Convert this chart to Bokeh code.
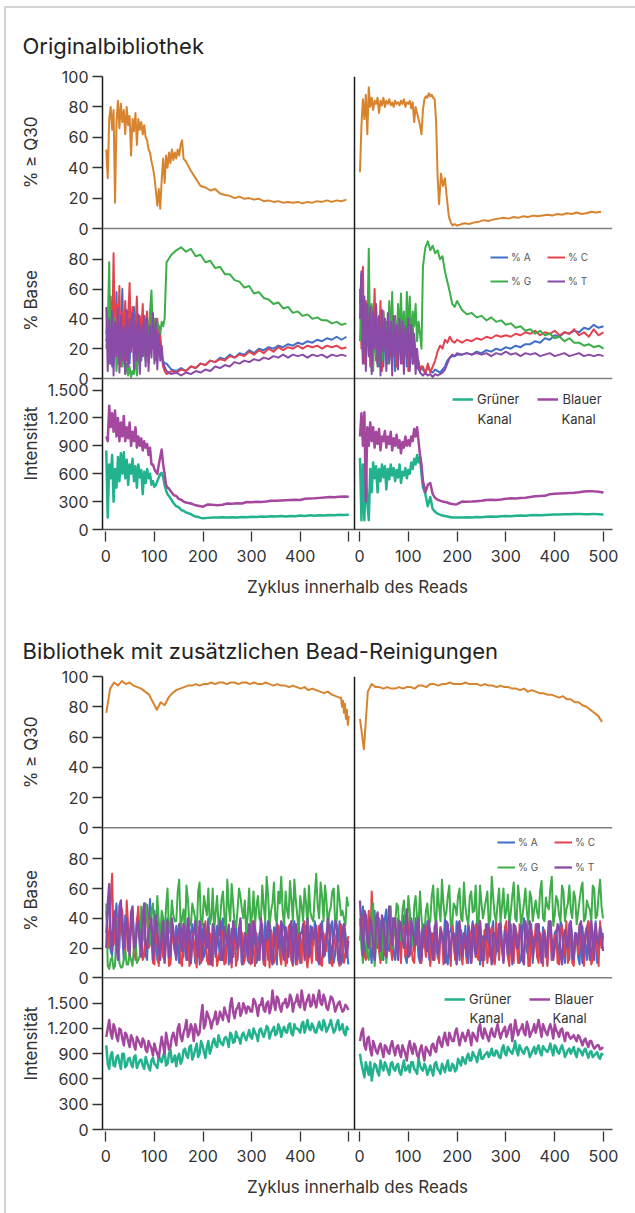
import math
from bokeh.plotting import figure
from bokeh.models import Range1d, LinearAxis, FixedTicker, Span, Label, Legend, LegendItem
from bokeh.layouts import column, row
from bokeh.embed import file_html
from bokeh.resources import INLINE

# ---------------- DATA ----------------
# Section 1 (Originalbibliothek) -- % >= Q30
q1L_a = [52, 33, 72, 80, 65, 78, 17, 70, 84, 66, 82, 70, 78, 62, 80, 68, 74, 48, 72, 64,
         76, 55, 72, 65, 70, 62, 68, 60, 58, 52, 50, 44, 40, 34, 25, 15, 26, 13, 32, 46,
         30, 48, 40, 50, 43, 52, 45, 50, 46, 52, 48, 55, 58, 46]            # cycles 1.. step 3
q1L_b = [44, 38, 33, 28, 27, 25, 26, 23, 22, 21.5, 20, 21, 19.5, 20, 19, 19.5, 18, 18.5, 17.5, 18,
         17, 17.5, 17, 17.5, 16.5, 17.5, 17, 18, 17.5, 18.5, 17.5, 18.5, 18, 19]  # cycles 165.. step 10
q1R_a = [37, 68, 85, 72, 88, 62, 93, 80, 86, 78, 84, 82, 86, 76, 84, 81, 86, 80, 84, 82,
         85, 81, 83, 80, 84, 82, 83, 81, 84, 82, 85, 80, 83, 82, 84, 79, 83, 70, 80, 76,
         72, 68, 62, 78, 85, 87, 86, 89, 87, 88, 86, 85, 70, 35]            # cycles 1.. step 3
q1R_b = [16, 36, 28, 33, 20, 8, 4, 2, 3, 2]                                  # cycles 163.. step 4
q1R_c = [2.5, 3.5, 3, 4, 4.5, 5.5, 5, 6, 6.5, 7, 6.5, 7.5, 7, 8, 7.5, 8.5, 8, 8.5, 9, 8.5,
         9.5, 9, 10, 9.5, 10.5, 9.5, 10, 11, 10.5, 11]                       # cycles 205.. step 10

# Section 1 -- % Base, read 1 (cycles 1.. step 3, then 125.. step 10)
b1L_A_a = [25, 40, 15, 50, 8, 45, 20, 58, 10, 42, 30, 60, 15, 40, 25, 45, 10, 38, 30, 48,
           15, 40, 25, 35, 12, 45, 20, 38, 30, 15, 42, 20, 35, 25, 40, 30, 35, 25, 15, 12, 10]
b1L_C_a = [30, 45, 10, 55, 20, 84, 15, 50, 25, 62, 8, 45, 30, 52, 12, 40, 64, 20, 48, 10,
           35, 55, 18, 42, 28, 50, 15, 38, 45, 10, 30, 48, 20, 35, 12, 40, 25, 30, 15, 8, 5]
b1L_G_a = [20, 35, 78, 10, 30, 15, 40, 5, 25, 12, 35, 8, 20, 3, 10, 2, 8, 1, 5, 3,
           15, 2, 20, 10, 30, 18, 35, 12, 40, 20, 45, 59, 25, 40, 30, 38, 35, 30, 38, 35, 40]
b1L_T_a = [48, 5, 40, 10, 45, 2, 38, 15, 47, 4, 42, 12, 35, 3, 46, 8, 40, 18, 44, 6,
           38, 12, 43, 3, 36, 15, 42, 8, 40, 5, 35, 14, 44, 10, 38, 6, 30, 12, 22, 10, 8]
b1L_A_b = [10, 6, 5, 7, 5, 8, 7, 10, 9, 12, 11, 14, 13, 16, 14, 17, 16, 19, 17, 20,
           19, 21, 20, 22, 21, 23, 22, 24, 23, 25, 24, 26, 25, 27, 26, 28, 26, 28]
b1L_C_b = [3, 5, 4, 6, 5, 8, 7, 10, 9, 12, 11, 13, 12, 15, 14, 16, 15, 18, 16, 19,
           17, 20, 18, 21, 19, 21, 20, 22, 20, 22, 21, 22, 20, 22, 21, 22, 20, 21]
b1L_G_b = [78, 83, 86, 88, 85, 87, 82, 83, 78, 79, 74, 75, 70, 70, 66, 65, 61, 62, 57, 58,
           54, 53, 50, 51, 47, 48, 44, 45, 42, 43, 40, 41, 39, 39, 37, 38, 36, 37]
b1L_T_b = [5, 3, 4, 2, 4, 3, 5, 4, 6, 5, 8, 7, 9, 8, 11, 10, 12, 11, 13, 12,
           14, 13, 15, 14, 16, 14, 16, 15, 16, 14, 16, 15, 16, 14, 16, 15, 16, 15]

# Section 1 -- % Base, read 2 (cycles 1.. step 3, 130.. step 5, 210.. step 10)
b1R_A_a = [50, 70, 20, 45, 10, 50, 25, 40, 5, 42, 18, 48, 10, 38, 25, 45, 8, 40, 20, 35,
           10, 42, 25, 38, 5, 35, 20, 40, 12, 36, 22, 38, 8, 32, 18, 38, 10, 28, 15, 8, 6, 5, 8]
b1R_C_a = [60, 20, 75, 10, 52, 25, 45, 8, 48, 30, 60, 12, 40, 25, 52, 5, 45, 20, 38, 10,
           48, 15, 35, 25, 42, 8, 38, 20, 45, 10, 35, 18, 40, 5, 30, 15, 38, 10, 20, 8, 12, 5, 8]
b1R_G_a = [25, 60, 10, 45, 20, 30, 87, 20, 50, 5, 35, 15, 40, 8, 30, 12, 45, 20, 38, 10,
           52, 25, 58, 15, 40, 20, 50, 30, 57, 25, 45, 18, 58, 30, 55, 20, 45, 35, 50, 25, 38, 30, 20]
b1R_T_a = [40, 72, 10, 55, 5, 50, 15, 48, 3, 45, 20, 50, 8, 42, 2, 46, 18, 40, 5, 44,
           12, 38, 2, 42, 15, 36, 6, 40, 10, 38, 3, 35, 14, 40, 5, 36, 10, 30, 3, 20, 8, 4, 3]
b1R_A_b = [6, 4, 8, 5, 4, 6, 5, 4, 6, 8, 12, 14, 15, 15, 16]
b1R_C_b = [8, 3, 10, 4, 8, 12, 18, 22, 20, 26, 24, 28, 25, 24, 26]
b1R_G_b = [75, 88, 92, 86, 89, 84, 86, 80, 82, 72, 65, 58, 50, 48, 52]
b1R_T_b = [2, 4, 2, 3, 1, 3, 2, 3, 4, 6, 10, 14, 16, 15, 17]
b1R_A_c = [16, 17, 16, 18, 17, 19, 18, 20, 19, 21, 20, 22, 21, 23, 23, 25, 24, 27, 26, 29,
           28, 31, 30, 32, 31, 34, 33, 36, 34, 35]
b1R_C_c = [24, 26, 25, 27, 26, 28, 27, 29, 28, 29, 28, 30, 29, 31, 30, 32, 29, 31, 30, 32,
           29, 31, 30, 33, 29, 31, 28, 33, 29, 31]
b1R_G_c = [46, 43, 44, 41, 42, 39, 41, 38, 39, 36, 37, 34, 35, 32, 33, 30, 32, 29, 30, 27,
           28, 25, 27, 24, 24, 22, 23, 21, 22, 20]
b1R_T_c = [16, 17, 16, 17, 16, 17, 15, 17, 16, 18, 16, 17, 15, 17, 16, 17, 15, 16, 17, 15,
           16, 17, 15, 16, 17, 15, 16, 15, 16, 15]

# Section 1 -- Intensitaet (cycles 1.. step 3, 130.. step 5, 210.. step 10)
i1L_G_a = [850, 130, 700, 550, 800, 300, 650, 450, 780, 520, 820, 600, 830, 550, 750, 480, 700, 600, 760, 520,
           680, 450, 700, 560, 640, 380, 620, 500, 650, 550, 600, 480, 520, 460, 480, 520, 560, 600, 610, 560,
           480, 420, 380]
i1L_B_a = [1000, 950, 1330, 1100, 1250, 1050, 1280, 1000, 1200, 950, 1150, 1000, 1220, 950, 1100, 980, 1150, 900, 1050, 950,
           1100, 880, 1000, 900, 980, 850, 950, 880, 920, 800, 880, 700, 700, 650, 620, 600, 700, 780, 860, 700,
           600, 480, 450]
i1L_G_b = [360, 320, 280, 250, 240, 210, 200, 185, 175, 165, 150, 140, 135, 125, 120]
i1L_B_b = [440, 400, 370, 360, 330, 320, 300, 290, 285, 280, 270, 260, 255, 250, 245]
i1L_G_c = [125, 130, 128, 132, 129, 133, 130, 135, 132, 138, 134, 140, 137, 142, 139, 144, 141, 146, 143, 150,
           146, 152, 149, 154, 151, 156, 153, 158, 155, 158]
i1L_B_c = [270, 265, 262, 266, 280, 276, 282, 279, 295, 292, 298, 295, 300, 310, 308, 312, 315, 318, 320, 317,
           330, 333, 335, 340, 345, 350, 348, 352, 355, 353]
i1R_G_a = [770, 100, 700, 100, 680, 290, 100, 650, 400, 720, 550, 680, 400, 650, 520, 700, 560, 680, 430, 650,
           540, 700, 580, 660, 520, 640, 560, 700, 500, 620, 580, 660, 550, 640, 600, 720, 650, 760, 700, 800,
           720, 780, 600]
i1R_B_a = [1000, 1250, 900, 1260, 300, 1100, 900, 1150, 950, 1100, 880, 1050, 920, 1080, 850, 1000, 950, 1060, 880, 1000,
           920, 1050, 850, 980, 900, 1020, 880, 960, 820, 940, 880, 1000, 900, 960, 900, 1000, 950, 1080, 1000, 1100,
           950, 800, 700]
i1R_G_b = [450, 380, 250, 350, 220, 190, 170, 160, 150, 145, 140, 135, 130, 128, 130]
i1R_B_b = [520, 400, 480, 500, 380, 340, 320, 310, 300, 295, 290, 280, 275, 270, 272]
i1R_G_c = [128, 132, 130, 135, 133, 138, 140, 138, 142, 145, 143, 148, 150, 148, 152, 155, 153, 156, 158, 160,
           162, 165, 163, 166, 168, 165, 165, 168, 165, 162]
i1R_B_c = [300, 298, 300, 305, 310, 318, 320, 318, 322, 330, 335, 333, 338, 342, 350, 358, 360, 362, 380, 385,
           388, 390, 392, 395, 400, 408, 410, 410, 405, 398]

# Section 2 (Bibliothek mit zusaetzlichen Bead-Reinigungen) -- % >= Q30
q2L_a = [76, 92, 96, 94, 97, 95, 96, 94, 93, 92, 90, 88, 83, 78, 83, 81, 86, 89, 91, 92,
         93, 94, 94, 95, 94, 95, 95, 96, 95, 96, 96, 95, 96, 96, 95, 96, 96, 95, 96, 95,
         95, 96, 95, 94, 95, 94, 94, 93, 94, 93, 92, 93, 91, 92, 91, 90, 89, 90, 88, 87, 86]  # 1.. step 8
q2L_b = [86, 80, 84, 76, 82, 72, 78, 68, 74]                                                 # 484.. step 2
q2R = [72, 52, 90, 95, 93, 93, 92, 93, 92, 92, 93, 92, 93, 93, 92, 94, 94, 93, 95, 95,
       94, 95, 95, 96, 95, 95, 95, 96, 95, 95, 95, 94, 95, 94, 94, 93, 94, 93, 93, 92,
       92, 91, 92, 90, 91, 90, 89, 89, 88, 88, 87, 86, 87, 85, 85, 83, 83, 81, 80, 78,
       76, 74, 70]                                                                           # 1.. step 8

# Section 2 -- % Base (first list: cycles 1.. step 6, second list: cycles 4.. step 6)
b2L_G = [50, 6, 14, 8, 40, 7, 12, 9, 16, 8, 30, 12, 48, 25, 40, 22, 50, 30, 38, 45, 28, 60, 35, 42,
         38, 66, 40, 30, 52, 35, 45, 28, 64, 38, 48, 60, 40, 32, 55, 38, 58, 30, 48, 63, 36, 45, 55, 40,
         30, 60, 42, 35, 55, 38, 48, 68, 34, 50, 40, 58, 68, 36, 45, 65, 38, 52, 30, 48, 60, 35, 44, 38,
         70, 40, 55, 62, 35, 48, 60, 38, 52, 45, 35, 48]
b2L_G2 = [8, 12, 6, 35, 10, 7, 18, 9, 12, 22, 10, 15, 35, 50, 28, 45, 32, 55, 25, 40, 48, 30, 52, 38,
          58, 34, 46, 62, 36, 50, 40, 58, 32, 55, 42, 36, 60, 44, 35, 52, 42, 66, 38, 50, 34, 60, 46, 52,
          42, 36, 58, 48, 40, 62, 38, 55, 45, 64, 36, 50, 44, 58, 40, 52, 66, 42, 55, 38, 50, 62, 40, 56,
          48, 64, 38, 52, 44, 58, 36, 62, 42, 40, 54]
b2L_C = [45, 20, 70, 30, 15, 48, 25, 52, 18, 40, 12, 48, 30, 15, 49, 22, 10, 35, 8, 28, 12, 38, 9, 25,
         15, 32, 8, 20, 35, 10, 25, 7, 30, 14, 38, 9, 22, 35, 8, 18, 30, 10, 36, 7, 25, 15, 33, 9,
         28, 12, 38, 8, 22, 35, 10, 30, 7, 26, 14, 35, 9, 28, 15, 36, 8, 24, 32, 10, 38, 7, 20, 30,
         12, 35, 8, 25, 38, 10, 22, 30, 8, 32, 15, 28]
b2L_C2 = [30, 52, 22, 40, 28, 45, 15, 35, 42, 20, 38, 25, 12, 40, 20, 30, 9, 25, 36, 14, 30, 8, 32, 18,
          28, 10, 36, 22, 8, 30, 16, 34, 10, 24, 12, 30, 8, 26, 14, 32, 9, 28, 18, 34, 8, 22, 30, 12,
          34, 9, 20, 30, 12, 36, 8, 24, 32, 10, 28, 16, 22, 8, 34, 12, 30, 9, 26, 36, 14, 22, 10, 32,
          24, 9, 30, 18, 34, 8, 26, 12, 36, 10, 22]
b2L_A = [30, 55, 15, 40, 22, 48, 12, 38, 25, 45, 15, 35, 20, 42, 12, 53, 18, 35, 10, 30, 25, 40, 12, 28,
         35, 10, 28, 40, 12, 30, 22, 38, 9, 32, 18, 40, 10, 28, 35, 12, 40, 20, 9, 33, 25, 12, 38, 18,
         30, 10, 25, 38, 14, 32, 9, 28, 40, 12, 22, 35, 15, 38, 10, 26, 33, 9, 40, 18, 28, 10, 35, 22,
         30, 9, 38, 15, 25, 35, 10, 28, 38, 12, 30, 9]
b2L_A2 = [45, 18, 35, 50, 20, 30, 42, 18, 32, 24, 40, 20, 32, 15, 38, 25, 45, 12, 32, 20, 36, 10, 35, 18,
          22, 38, 14, 30, 24, 36, 10, 28, 34, 14, 30, 9, 30, 14, 25, 36, 10, 32, 22, 14, 38, 28, 9, 30,
          12, 36, 20, 10, 30, 22, 38, 12, 26, 34, 9, 28, 36, 20, 30, 12, 38, 22, 10, 30, 35, 14, 24, 38,
          12, 34, 20, 30, 10, 38, 16, 24, 9, 36, 20]
b2L_T = [20, 63, 18, 45, 12, 52, 20, 40, 15, 48, 22, 38, 14, 50, 20, 35, 12, 42, 18, 30, 10, 38, 15, 32,
         12, 36, 18, 28, 40, 10, 30, 22, 38, 12, 26, 35, 9, 32, 24, 38, 12, 28, 35, 10, 30, 20, 40, 14,
         26, 36, 10, 32, 18, 40, 12, 25, 35, 9, 30, 20, 38, 12, 28, 34, 10, 36, 20, 30, 12, 40, 18, 26,
         35, 10, 30, 22, 40, 12, 28, 36, 10, 32, 20, 25]
b2L_T2 = [50, 30, 40, 22, 48, 30, 35, 25, 44, 20, 36, 28, 42, 22, 30, 40, 24, 34, 12, 38, 26, 14, 40, 20,
          30, 22, 36, 12, 30, 24, 38, 14, 28, 36, 20, 12, 36, 16, 30, 12, 34, 22, 14, 38, 24, 32, 10, 30,
          14, 28, 38, 20, 12, 32, 26, 38, 14, 22, 36, 28, 20, 34, 14, 38, 24, 12, 30, 36, 22, 14, 34, 28,
          18, 36, 14, 26, 32, 20, 38, 14, 24, 36, 14]
b2R_G = [40, 10, 35, 12, 45, 8, 30, 15, 38, 10, 42, 20, 35, 48, 25, 52, 30, 45, 22, 55, 35, 40, 28, 50,
         38, 62, 35, 48, 66, 40, 55, 35, 50, 42, 60, 38, 48, 36, 58, 45, 38, 62, 40, 52, 35, 68, 42, 50,
         38, 60, 45, 35, 55, 40, 62, 36, 50, 44, 58, 38, 52, 40, 65, 38, 48, 60, 35, 55, 42, 62, 38, 50,
         45, 58, 36, 52, 64, 40, 48, 38, 60, 42, 66, 40]
b2R_G2 = [20, 45, 15, 30, 50, 22, 40, 12, 35, 28, 48, 30, 50, 30, 45, 38, 55, 28, 48, 40, 58, 30, 45, 36,
          55, 42, 60, 38, 50, 44, 62, 36, 48, 55, 40, 64, 40, 55, 44, 62, 36, 50, 46, 58, 40, 54, 38, 60,
          48, 40, 56, 44, 64, 38, 52, 42, 60, 36, 54, 46, 44, 58, 40, 54, 46, 68, 42, 52, 38, 58, 46, 62,
          40, 54, 44, 60, 38, 52, 46, 62, 40, 56, 48]
b2R_C = [35, 20, 12, 45, 58, 15, 40, 10, 38, 22, 45, 12, 30, 40, 10, 35, 20, 42, 12, 28, 38, 10, 25, 35,
         8, 22, 38, 10, 30, 15, 35, 8, 26, 20, 32, 9, 24, 36, 10, 30, 14, 38, 8, 28, 20, 34, 9, 25,
         32, 12, 38, 8, 26, 34, 10, 30, 18, 36, 8, 28, 36, 10, 24, 32, 8, 38, 15, 30, 9, 35, 22, 10,
         32, 8, 28, 36, 12, 25, 38, 9, 30, 20, 38, 28]
b2R_C2 = [42, 15, 30, 22, 40, 25, 18, 35, 15, 30, 20, 38, 18, 26, 35, 14, 30, 22, 10, 34, 18, 30, 14, 28,
          30, 12, 26, 34, 9, 28, 20, 36, 12, 30, 16, 24, 10, 30, 20, 36, 12, 26, 32, 10, 30, 14, 38, 12,
          20, 34, 14, 30, 10, 24, 36, 12, 28, 8, 32, 20, 14, 30, 8, 26, 36, 12, 28, 10, 32, 14, 38, 24,
          10, 30, 16, 24, 8, 34, 20, 12, 26, 8, 20]
b2R_A = [25, 48, 15, 40, 10, 45, 20, 38, 12, 46, 18, 40, 12, 35, 22, 42, 10, 32, 25, 40, 14, 30, 20, 38,
         10, 30, 36, 12, 28, 40, 9, 32, 22, 38, 12, 26, 35, 10, 30, 22, 40, 9, 28, 36, 14, 32, 10, 25,
         38, 12, 30, 22, 9, 35, 26, 12, 40, 18, 30, 10, 28, 36, 12, 30, 9, 38, 20, 32, 12, 35, 10, 28,
         36, 14, 30, 9, 34, 22, 38, 12, 28, 10, 35, 30]
b2R_A2 = [40, 20, 32, 18, 36, 24, 30, 14, 40, 22, 30, 16, 30, 20, 38, 14, 28, 40, 18, 30, 10, 36, 24, 14,
          28, 20, 14, 34, 20, 12, 30, 38, 14, 26, 32, 20, 12, 28, 38, 14, 30, 22, 12, 34, 24, 38, 18, 30,
          22, 30, 14, 36, 20, 30, 10, 32, 24, 14, 36, 22, 14, 24, 34, 20, 28, 12, 30, 22, 38, 18, 26, 12,
          28, 22, 14, 36, 20, 12, 32, 20, 38, 16, 22]
b2R_T = [52, 15, 42, 20, 35, 12, 44, 18, 38, 14, 48, 22, 40, 12, 36, 20, 46, 15, 32, 22, 40, 12, 35, 18,
         30, 12, 38, 20, 28, 10, 36, 22, 30, 9, 38, 15, 28, 35, 10, 32, 20, 38, 12, 26, 34, 9, 30, 18,
         36, 10, 28, 38, 12, 30, 20, 35, 9, 28, 38, 14, 25, 36, 10, 30, 22, 38, 12, 28, 34, 9, 32, 20,
         38, 12, 28, 35, 10, 30, 22, 38, 12, 26, 34, 18]
b2R_T2 = [30, 45, 25, 40, 20, 38, 28, 42, 22, 36, 30, 40, 22, 38, 26, 30, 14, 38, 26, 36, 18, 30, 22, 38,
          20, 34, 16, 32, 22, 38, 14, 30, 20, 36, 24, 30, 14, 22, 36, 16, 30, 12, 28, 36, 20, 30, 24, 36,
          20, 32, 16, 24, 36, 20, 30, 12, 38, 22, 30, 26, 36, 18, 30, 14, 38, 26, 20, 36, 16, 28, 22, 36,
          14, 30, 22, 38, 18, 34, 12, 28, 36, 22, 30]

# Section 2 -- Intensitaet (first list: cycles 1.. step 6, second list: cycles 4.. step 6)
i2L_G = [1000, 720, 920, 750, 880, 720, 900, 760, 850, 740, 880, 780, 830, 720, 800, 700, 850, 760, 880, 800, 920, 780, 950, 820,
         750, 900, 820, 960, 850, 1000, 880, 1020, 900, 1000, 850, 1050, 960, 1080, 980, 1050, 1000, 1100, 980, 1120, 1040, 1100, 1020, 1150,
         1060, 1180, 1080, 1150, 1050, 1200, 1100, 1230, 1080, 1180, 1120, 1250, 1100, 1220, 1150, 1260, 1120, 1200, 1180, 1250, 1150, 1300, 1180, 1220,
         1150, 1280, 1180, 1250, 1200, 1300, 1150, 1260, 1180, 1250, 1120, 1180]
i2L_G2 = [780, 880, 760, 860, 800, 900, 740, 840, 780, 860, 730, 820, 760, 860, 740, 820, 780, 730, 820, 880, 760, 900, 800, 880,
          860, 780, 940, 880, 980, 830, 950, 860, 1050, 920, 980, 900, 1040, 1000, 1120, 1020, 1080, 1060, 1150, 1030, 1160, 1080, 1120, 1100,
          1120, 1100, 1200, 1120, 1180, 1140, 1160, 1200, 1150, 1220, 1140, 1200, 1180, 1160, 1240, 1140, 1250, 1200, 1150, 1280, 1220, 1200, 1260, 1160,
          1220, 1200, 1300, 1160, 1240, 1220, 1180, 1300, 1200, 1150, 1220]
i2L_B = [1100, 1300, 1080, 1200, 1050, 1180, 1000, 1120, 980, 1080, 950, 1060, 980, 1050, 920, 1000, 880, 950, 850, 1100, 900, 1050, 980, 1150,
         1000, 1250, 1050, 1200, 1100, 1250, 1050, 1180, 1150, 1480, 1250, 1350, 1200, 1320, 1250, 1400, 1300, 1380, 1280, 1560, 1320, 1450, 1350, 1500,
         1380, 1450, 1400, 1520, 1350, 1480, 1420, 1500, 1380, 1650, 1420, 1550, 1400, 1500, 1450, 1600, 1400, 1520, 1480, 1650, 1420, 1550, 1460, 1600,
         1450, 1650, 1480, 1550, 1420, 1580, 1500, 1450, 1520, 1400, 1480, 1420]
i2L_B2 = [1200, 1150, 1250, 1100, 1200, 1080, 1150, 1050, 1120, 1000, 1100, 1020, 1080, 950, 1050, 960, 1020, 900, 980, 1000, 1150, 950, 1100, 1080,
          1200, 1100, 1150, 1300, 1150, 1200, 1250, 1120, 1350, 1200, 1400, 1300, 1280, 1400, 1300, 1350, 1450, 1340, 1480, 1400, 1420, 1500, 1400, 1450,
          1460, 1400, 1550, 1450, 1480, 1560, 1400, 1520, 1450, 1500, 1580, 1450, 1500, 1550, 1480, 1560, 1500, 1600, 1450, 1540, 1500, 1600, 1480, 1520,
          1560, 1500, 1600, 1450, 1500, 1560, 1400, 1500, 1450, 1420, 1460]
i2R_G = [900, 700, 800, 650, 580, 780, 680, 820, 700, 760, 650, 800, 700, 780, 650, 820, 720, 680, 800, 700, 850, 720, 780, 650,
         760, 640, 800, 700, 780, 680, 820, 700, 760, 720, 800, 860, 780, 900, 820, 880, 800, 950, 840, 900, 860, 960, 880, 920,
         850, 1000, 880, 950, 900, 1050, 880, 960, 900, 980, 860, 940, 900, 1000, 880, 960, 920, 1020, 880, 980, 900, 1000, 860, 940,
         900, 980, 860, 950, 880, 960, 850, 930, 880, 920, 840, 880]
i2R_G2 = [780, 620, 720, 800, 700, 760, 640, 740, 800, 700, 780, 720, 760, 680, 740, 700, 760, 800, 720, 660, 760, 700, 740, 700,
          700, 780, 720, 660, 740, 760, 700, 780, 690, 840, 760, 820, 860, 820, 920, 860, 900, 840, 880, 920, 900, 880, 940, 860,
          960, 900, 980, 920, 960, 940, 1000, 920, 960, 940, 900, 980, 960, 920, 990, 940, 960, 940, 1000, 920, 960, 940, 900, 960,
          940, 900, 960, 920, 940, 900, 920, 860, 900, 860, 900]
i2R_B = [1050, 1200, 950, 1100, 880, 1000, 900, 1020, 860, 980, 900, 1050, 880, 1000, 860, 950, 820, 1050, 900, 980, 860, 1000, 820, 950,
         880, 1020, 920, 1100, 980, 1150, 1000, 1100, 1050, 1200, 1000, 1150, 1050, 1180, 1000, 1120, 1050, 1250, 1080, 1150, 1050, 1200, 1100, 1250,
         1080, 1180, 1100, 1220, 1050, 1300, 1120, 1200, 1150, 1280, 1100, 1180, 1150, 1300, 1100, 1200, 1120, 1250, 1080, 1180, 1100, 1200, 1050, 1150,
         1080, 1120, 1050, 1100, 1000, 1080, 980, 1050, 960, 1000, 950, 980]
i2R_B2 = [1150, 1000, 1080, 950, 1050, 930, 980, 940, 1000, 920, 1000, 950, 980, 920, 1000, 900, 980, 950, 1020, 880, 950, 900, 980, 920,
          1000, 950, 1050, 1020, 1080, 1050, 1150, 1050, 1150, 1100, 1080, 1100, 1120, 1100, 1150, 1080, 1200, 1120, 1200, 1100, 1150, 1120, 1180, 1150,
          1150, 1220, 1150, 1250, 1150, 1200, 1180, 1250, 1120, 1220, 1150, 1250, 1220, 1200, 1250, 1150, 1200, 1180, 1250, 1150, 1180, 1120, 1150, 1100,
          1100, 1080, 1120, 1050, 1060, 1020, 1050, 1000, 980, 1000, 960]

# tick values
q30_ticks = [0, 20, 40, 60, 80, 100]
base_ticks = [0, 20, 40, 60, 80]
int_ticks = [0, 300, 600, 900, 1200, 1500]
int_labels = ["0", "300", "600", "900", "1.200", "1.500"]
cycle_ticks = [0, 100, 200, 300, 400, 500]

# ---------------- STYLE / GEOMETRY ----------------
FONT = "Inter"
C_Q30 = "#D8842F"
C_A, C_C, C_G, C_T = "#3F6FC6", "#E2434F", "#3DAE49", "#8A4BA8"
C_GREEN, C_BLUE = "#22B38E", "#A4489F"
FRAME_W, FRAME_H = 510, 453
X_L0, XS_L = 3.3, 0.486
X_R0, XS_R = 257.0, 0.488
DIVIDER = 252
MAIN_W, YSTRIP_W, FULL_W = 593, 36, 629


def cyc(start, step, vals):
    return [start + step * i for i in range(len(vals))]


def merged(a, b):
    pts = sorted(zip(cyc(1, 6, a) + cyc(4, 6, b), a + b))
    return [p[0] for p in pts], [p[1] for p in pts]


def norm(v):
    v = round(v, 2)
    return int(v) if float(v).is_integer() else v


def strip(w, h, yspan):
    s = figure(width=w, height=h, x_range=Range1d(0, w), y_range=Range1d(0, yspan), title=None,
               min_border=0, min_border_left=0, min_border_right=0, min_border_top=0, min_border_bottom=0,
               toolbar_location=None, output_backend="svg", x_axis_type=None, y_axis_type=None)
    s.outline_line_color = None
    s.background_fill_color = "white"
    s.border_fill_color = "white"
    return s


def build(geo, height, series, leg_base, leg_int, kanal):
    top = 12
    bottom = height - top - FRAME_H
    p = figure(width=MAIN_W, height=height, x_range=Range1d(0, FRAME_W), y_range=Range1d(0, FRAME_H),
               min_border_left=60, min_border_right=23, min_border_top=top, min_border_bottom=bottom,
               toolbar_location=None, output_backend="svg", x_axis_type=None, y_axis_type=None)
    p.outline_line_color = None
    p.background_fill_color = "white"
    p.border_fill_color = "white"
    p.extra_x_ranges = {"L": Range1d(-X_L0 / XS_L, (FRAME_W - X_L0) / XS_L),
                        "R": Range1d(-X_R0 / XS_R, (FRAME_W - X_R0) / XS_R)}
    yr = {}
    for key in ("q", "b", "i"):
        z, s = geo[key]
        yr[key] = Range1d(-z / s, (FRAME_H - z) / s)
    p.extra_y_ranges = yr

    for key in ("q", "b"):
        p.add_layout(Span(location=0, dimension="width", y_range_name=key, line_color="#808080", line_width=1.5))
    p.add_layout(Span(location=DIVIDER, dimension="height", line_color="#1a1a1a", line_width=1.5))

    rend = {}
    for name, side, key, color, lw, xs, ys in series:
        r = p.line(xs, ys, x_range_name=side, y_range_name=key, line_color=color, line_width=lw,
                   line_join="round")
        rend[(name, side)] = r

    ticks, over = [], {}
    for key, vals, labs in (("q", q30_ticks, [str(v) for v in q30_ticks]),
                            ("b", base_ticks, [str(v) for v in base_ticks]),
                            ("i", int_ticks, int_labels)):
        z, s = geo[key]
        for v, lab in zip(vals, labs):
            t = norm(z + s * v)
            ticks.append(t)
            over[t] = lab
    ya = LinearAxis(ticker=FixedTicker(ticks=ticks), major_label_overrides=over)
    ya.major_tick_out = 10
    ya.major_tick_in = 0
    ya.minor_tick_out = 0
    ya.minor_tick_in = 0
    ya.major_label_standoff = 4
    ya.axis_line_color = "#1a1a1a"
    ya.axis_line_width = 1.5
    ya.major_tick_line_color = "#333333"
    ya.major_tick_line_width = 1.3
    ya.major_label_text_font = FONT
    ya.major_label_text_font_size = "16px"
    ya.major_label_text_color = "#333333"
    p.add_layout(ya, "left")

    xt, xo = [], {}
    for v in cycle_ticks:
        t = norm(X_L0 + XS_L * v)
        xt.append(t)
        xo[t] = "" if v == 500 else str(v)
    for v in cycle_ticks:
        t = norm(X_R0 + XS_R * v)
        xt.append(t)
        xo[t] = str(v)
    xa = LinearAxis(ticker=FixedTicker(ticks=xt), major_label_overrides=xo,
                    axis_label="Zyklus innerhalb des Reads")
    xa.major_tick_out = 12
    xa.major_tick_in = -2
    xa.minor_tick_out = 0
    xa.minor_tick_in = 0
    xa.major_label_standoff = 8
    xa.axis_line_color = "#555555"
    xa.axis_line_width = 1.5
    xa.major_tick_line_color = "#333333"
    xa.major_tick_line_width = 1.3
    xa.major_label_text_font = FONT
    xa.major_label_text_font_size = "16px"
    xa.major_label_text_color = "#333333"
    xa.axis_label_text_font = FONT
    xa.axis_label_text_font_size = "17px"
    xa.axis_label_text_font_style = "normal"
    xa.axis_label_text_color = "#333333"
    xa.axis_label_standoff = 12
    p.add_layout(xa, "below")

    lx, ly1, ly2 = leg_base
    for names, ly in ((("% A", "A"), ("% C", "C")), ly1), ((("% G", "G"), ("% T", "T")), ly2):
        items = [LegendItem(label=lab, renderers=[rend[(k, "R")]]) for lab, k in names]
        lg = Legend(items=items, location=(lx, ly), orientation="horizontal", glyph_width=18, glyph_height=12,
                    label_standoff=3, label_width=20, label_height=12, spacing=16, padding=0, margin=0,
                    label_text_font=FONT, label_text_font_size="10px", label_text_color="#555555",
                    background_fill_alpha=0, border_line_color=None)
        p.add_layout(lg)
    ix, iy = leg_int
    items = [LegendItem(label="Grüner", renderers=[rend[("green", "R")]]),
             LegendItem(label="Blauer", renderers=[rend[("blue", "R")]])]
    lg = Legend(items=items, location=(ix, iy), orientation="horizontal", glyph_width=21, glyph_height=16,
                label_standoff=4, label_height=16, spacing=18, padding=0, margin=0, label_text_font=FONT,
                label_text_font_size="13px", label_text_color="#333333",
                background_fill_alpha=0, border_line_color=None)
    p.add_layout(lg)
    kx1, kx2, ky = kanal
    for kx in (kx1, kx2):
        p.add_layout(Label(x=kx, y=ky, text="Kanal", text_font=FONT, text_font_size="13px",
                           text_color="#333333", text_align="left", text_baseline="middle"))
    return p


def ylabels(height):
    # the strip's frame is aligned with the main frame, so y is in frame pixels
    s = strip(YSTRIP_W, height, FRAME_H)
    for txt, yy in zip(("% ≥ Q30", "% Base", "Intensität"), (377, 229, 86)):
        s.add_layout(Label(x=24, y=yy, text=txt, angle=math.pi / 2, text_font=FONT, text_font_size="17px",
                           text_color="#333333", text_align="center", text_baseline="middle"))
    return s


def title_strip(height, text, y):
    s = strip(FULL_W, height, height)
    s.add_layout(Label(x=16, y=y, text=text, text_font=FONT, text_font_size="22px",
                       text_color="#222222", text_align="left", text_baseline="alphabetic"))
    return s


bx2L_A, by2L_A = merged(b2L_A, b2L_A2)
bx2L_C, by2L_C = merged(b2L_C, b2L_C2)
bx2L_G, by2L_G = merged(b2L_G, b2L_G2)
bx2L_T, by2L_T = merged(b2L_T, b2L_T2)
bx2R_A, by2R_A = merged(b2R_A, b2R_A2)
bx2R_C, by2R_C = merged(b2R_C, b2R_C2)
bx2R_G, by2R_G = merged(b2R_G, b2R_G2)
bx2R_T, by2R_T = merged(b2R_T, b2R_T2)
ix2L_G, iy2L_G = merged(i2L_G, i2L_G2)
ix2L_B, iy2L_B = merged(i2L_B, i2L_B2)
ix2R_G, iy2R_G = merged(i2R_G, i2R_G2)
ix2R_B, iy2R_B = merged(i2R_B, i2R_B2)

s1 = [
    ("q30", "L", "q", C_Q30, 2, cyc(1, 3, q1L_a) + cyc(165, 10, q1L_b), q1L_a + q1L_b),
    ("q30", "R", "q", C_Q30, 2, cyc(1, 3, q1R_a) + cyc(163, 4, q1R_b) + cyc(205, 10, q1R_c), q1R_a + q1R_b + q1R_c),
    ("A", "L", "b", C_A, 2, cyc(1, 3, b1L_A_a) + cyc(125, 10, b1L_A_b), b1L_A_a + b1L_A_b),
    ("C", "L", "b", C_C, 2, cyc(1, 3, b1L_C_a) + cyc(125, 10, b1L_C_b), b1L_C_a + b1L_C_b),
    ("G", "L", "b", C_G, 2, cyc(1, 3, b1L_G_a) + cyc(125, 10, b1L_G_b), b1L_G_a + b1L_G_b),
    ("T", "L", "b", C_T, 2, cyc(1, 3, b1L_T_a) + cyc(125, 10, b1L_T_b), b1L_T_a + b1L_T_b),
    ("A", "R", "b", C_A, 2, cyc(1, 3, b1R_A_a) + cyc(130, 5, b1R_A_b) + cyc(210, 10, b1R_A_c), b1R_A_a + b1R_A_b + b1R_A_c),
    ("C", "R", "b", C_C, 2, cyc(1, 3, b1R_C_a) + cyc(130, 5, b1R_C_b) + cyc(210, 10, b1R_C_c), b1R_C_a + b1R_C_b + b1R_C_c),
    ("G", "R", "b", C_G, 2, cyc(1, 3, b1R_G_a) + cyc(130, 5, b1R_G_b) + cyc(210, 10, b1R_G_c), b1R_G_a + b1R_G_b + b1R_G_c),
    ("T", "R", "b", C_T, 2, cyc(1, 3, b1R_T_a) + cyc(130, 5, b1R_T_b) + cyc(210, 10, b1R_T_c), b1R_T_a + b1R_T_b + b1R_T_c),
    ("green", "L", "i", C_GREEN, 2.5, cyc(1, 3, i1L_G_a) + cyc(130, 5, i1L_G_b) + cyc(210, 10, i1L_G_c), i1L_G_a + i1L_G_b + i1L_G_c),
    ("blue", "L", "i", C_BLUE, 2.5, cyc(1, 3, i1L_B_a) + cyc(130, 5, i1L_B_b) + cyc(210, 10, i1L_B_c), i1L_B_a + i1L_B_b + i1L_B_c),
    ("green", "R", "i", C_GREEN, 2.5, cyc(1, 3, i1R_G_a) + cyc(130, 5, i1R_G_b) + cyc(210, 10, i1R_G_c), i1R_G_a + i1R_G_b + i1R_G_c),
    ("blue", "R", "i", C_BLUE, 2.5, cyc(1, 3, i1R_B_a) + cyc(130, 5, i1R_B_b) + cyc(210, 10, i1R_B_c), i1R_B_a + i1R_B_b + i1R_B_c),
]
s2 = [
    ("q30", "L", "q", C_Q30, 2, cyc(1, 8, q2L_a) + cyc(484, 2, q2L_b), q2L_a + q2L_b),
    ("q30", "R", "q", C_Q30, 2, cyc(1, 8, q2R), q2R),
    ("A", "L", "b", C_A, 2, bx2L_A, by2L_A),
    ("C", "L", "b", C_C, 2, bx2L_C, by2L_C),
    ("G", "L", "b", C_G, 2, bx2L_G, by2L_G),
    ("T", "L", "b", C_T, 2.3, bx2L_T, by2L_T),
    ("A", "R", "b", C_A, 2, bx2R_A, by2R_A),
    ("C", "R", "b", C_C, 2, bx2R_C, by2R_C),
    ("G", "R", "b", C_G, 2, bx2R_G, by2R_G),
    ("T", "R", "b", C_T, 2.3, bx2R_T, by2R_T),
    ("green", "L", "i", C_GREEN, 2.5, ix2L_G, iy2L_G),
    ("blue", "L", "i", C_BLUE, 2.5, ix2L_B, iy2L_B),
    ("green", "R", "i", C_GREEN, 2.5, ix2R_G, iy2R_G),
    ("blue", "R", "i", C_BLUE, 2.5, ix2R_B, iy2R_B),
]

geo1 = {"q": (301, 1.52), "b": (151, 1.491), "i": (0, 0.093)}
geo2 = {"q": (301.7, 1.513), "b": (151.7, 1.4875), "i": (0, 0.0842)}

t1 = title_strip(56, "Originalbibliothek", 19)
m1 = build(geo1, 541, s1, (388, 266, 242), (350, 122), (375, 459, 111))
y1 = ylabels(541)
t2 = title_strip(59, "Bibliothek mit zusätzlichen Bead-Reinigungen", 14)
m2 = build(geo2, 549, s2, (395, 281, 256), (342, 122), (367, 450, 112))
y2 = ylabels(549)

lay = column(t1, row(y1, m1), t2, row(y2, m2), margin=(6, 0, 0, 4),
             styles={"border-left": "2px solid #d4d4d4", "border-top": "2px solid #d4d4d4"})

open("out.html", "w").write(file_html(lay, INLINE, "Chart"))
